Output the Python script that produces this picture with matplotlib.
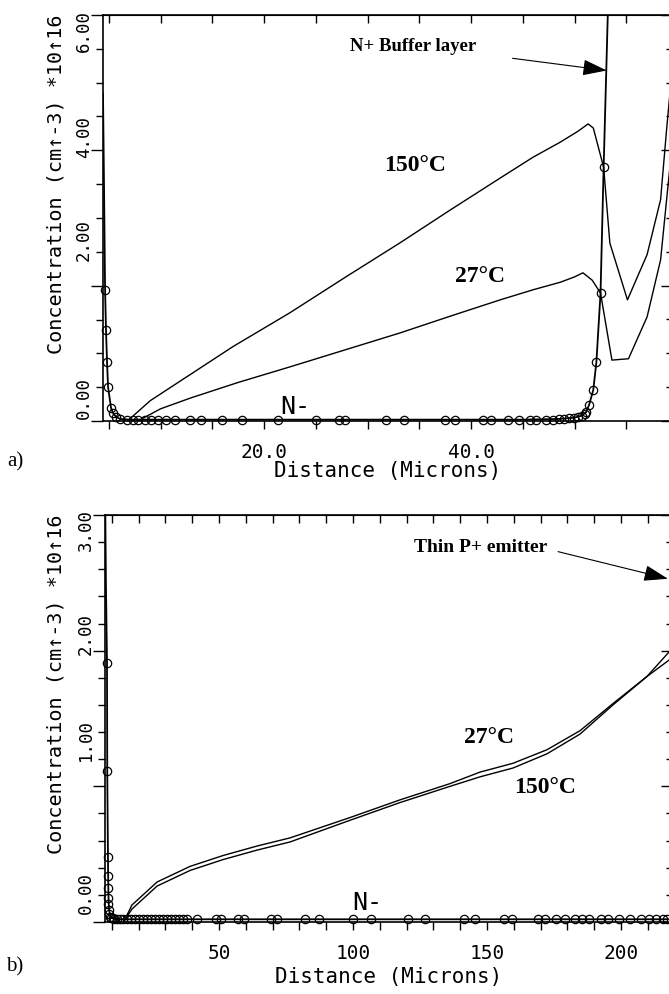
import matplotlib
matplotlib.use("Agg")
import matplotlib.pyplot as plt
from matplotlib.transforms import offset_copy

# concentration in units of 1e16 cm^-3, distance in microns

# ---- a) device with N+ buffer layer
dop_a_x = [4.44, 4.55, 4.64, 4.73, 4.83, 4.93, 5.22, 5.4, 5.7, 6.1, 7.0, 15.0, 30.0, 45.0,
           48.5, 50.0, 50.7, 51.1, 51.4, 51.8, 52.1, 52.5, 52.8, 53.2, 53.5]
dop_a_y = [4.84, 3.30, 1.94, 1.34, 0.87, 0.50, 0.19, 0.12, 0.06, 0.03, 0.02, 0.02, 0.02, 0.02,
           0.03, 0.05, 0.08, 0.13, 0.24, 0.46, 0.87, 1.89, 3.75, 6.00, 6.60]

circ_a_x = [4.64, 4.73, 4.83, 4.93, 5.22, 5.4, 5.7, 6.1, 6.8, 7.3, 7.8, 8.5, 9.1, 9.8, 10.5,
            11.4, 12.8, 13.9, 15.9, 17.9, 21.3, 25.0, 27.2, 27.8, 31.8, 33.5, 37.5, 38.4, 41.1,
            41.9, 43.6, 44.6, 45.7, 46.3, 47.2, 47.9, 48.5, 49.0, 49.5, 49.9, 50.3, 50.7, 51.0,
            51.1, 51.4, 51.8, 52.1, 52.5, 52.8]
circ_a_y = [1.94, 1.34, 0.87, 0.50, 0.19, 0.12, 0.06, 0.03, 0.02, 0.02, 0.02, 0.02, 0.02, 0.02,
            0.02, 0.02, 0.02, 0.02, 0.02, 0.02, 0.02, 0.02, 0.02, 0.02, 0.02, 0.02, 0.02, 0.02,
            0.02, 0.02, 0.02, 0.02, 0.02, 0.02, 0.02, 0.02, 0.03, 0.03, 0.04, 0.05, 0.06, 0.08,
            0.11, 0.14, 0.24, 0.46, 0.87, 1.89, 3.75]

hot_a_x = [6.8, 9.0, 12.1, 17.0, 22.5, 27.8, 33.1, 38.0, 42.8, 46.0, 48.6, 50.3, 51.3, 51.8,
           52.8, 53.4, 55.1, 57.0, 58.3, 58.9, 59.5]
hot_a_y = [0.0, 0.30, 0.61, 1.10, 1.60, 2.12, 2.63, 3.12, 3.59, 3.90, 4.12, 4.28, 4.39, 4.33,
           3.75, 2.63, 1.79, 2.46, 3.27, 4.34, 5.33]

room_a_x = [7.8, 10.0, 12.9, 17.5, 22.5, 27.8, 33.1, 38.0, 42.8, 46.0, 48.6, 50.0, 50.8, 51.7,
            52.5, 53.6, 55.2, 57.0, 58.3, 59.0, 59.5]
room_a_y = [0.0, 0.18, 0.34, 0.57, 0.80, 1.05, 1.30, 1.55, 1.79, 1.94, 2.05, 2.13, 2.19, 2.08,
            1.89, 0.90, 0.92, 1.54, 2.38, 3.45, 4.20]

xt_a = [20, 40]
xt_a_lab = ["20.0", "40.0"]
xt_a_minor = [5, 10, 15, 25, 30, 35, 45, 50, 55]
yt_a = [0, 2, 4, 6]
yt_a_lab = ["0.00", "2.00", "4.00", "6.00"]
yt_a_minor = [0.5, 1, 1.5, 2.5, 3, 3.5, 4.5, 5, 5.5]

# ---- b) device with thin P+ emitter
dop_b_x = [7.46, 7.8, 8.2, 8.3, 8.6, 8.7, 8.8, 9.0, 9.3, 10.0, 12.0, 60.0, 120.0, 180.0, 219.5]
dop_b_y = [3.30, 2.50, 1.91, 1.11, 0.40, 0.25, 0.15, 0.09, 0.05, 0.03, 0.02, 0.02, 0.02, 0.02, 0.02]

circ_b_x = [8.2, 8.3, 8.6, 8.6, 8.6, 8.6, 8.7, 8.8, 9.0, 9.3, 9.7, 10.3, 11.0, 12.0, 13.0, 14.0,
            15.5, 17.0, 18.5, 20.0, 21.5, 23.0, 24.5, 26.0, 27.5, 29.0, 30.5, 32.0, 33.5, 35.0,
            36.5, 38.0, 41.8, 48.9, 50.7, 57.1, 59.3, 69.4, 71.6, 82.1, 87.3, 100.0, 106.7,
            120.5, 126.9, 141.4, 145.5, 156.3, 159.3, 169.0, 171.6, 175.7, 179.1, 182.8, 185.4,
            188.1, 192.5, 195.1, 199.3, 203.4, 207.5, 210.5, 213.1, 215.5, 217.2]
circ_b_y = [1.91, 1.11, 0.48, 0.34, 0.25, 0.18, 0.13, 0.09, 0.06, 0.04, 0.03, 0.03, 0.02, 0.02,
            0.02, 0.02, 0.02, 0.02, 0.02, 0.02, 0.02, 0.02, 0.02, 0.02, 0.02, 0.02, 0.02, 0.02,
            0.02, 0.02, 0.02, 0.02, 0.02, 0.02, 0.02, 0.02, 0.02, 0.02, 0.02, 0.02, 0.02, 0.02,
            0.02, 0.02, 0.02, 0.02, 0.02, 0.02, 0.02, 0.02, 0.02, 0.02, 0.02, 0.02, 0.02, 0.02,
            0.02, 0.02, 0.02, 0.02, 0.02, 0.02, 0.02, 0.02, 0.02]

curve_b_x = [14.9, 17.5, 26.9, 39.2, 51.5, 64.2, 76.5, 98.9, 117.5, 136.2, 147.4, 159.7, 172.4,
             184.7, 197.0, 209.7, 217.9, 219.4]
room_b_y = [0.02, 0.125, 0.295, 0.41, 0.49, 0.56, 0.62, 0.77, 0.90, 1.02, 1.105, 1.17, 1.27,
            1.41, 1.61, 1.81, 1.93, 1.97]
hot_b_y = [0.015, 0.095, 0.265, 0.38, 0.46, 0.53, 0.59, 0.75, 0.88, 1.00, 1.07, 1.135, 1.24,
           1.385, 1.60, 1.81, 1.99, 2.03]

xt_b = [50, 100, 150, 200]
xt_b_lab = ["50", "100", "150", "200"]
xt_b_minor = [10, 20, 30, 40, 60, 70, 80, 90, 110, 120, 130, 140, 160, 170, 180, 190, 210]
yt_b = [0, 1, 2, 3]
yt_b_lab = ["0.00", "1.00", "2.00", "3.00"]
yt_b_minor = [0.2, 0.4, 0.6, 0.8, 1.2, 1.4, 1.6, 1.8, 2.2, 2.4, 2.6, 2.8]

ylab = "Concentration (cm\u2191-3) *10\u219116"
xlab = "Distance (Microns)"

mono = ["DejaVu Sans Mono", "DejaVu Sans"]
serif = ["Liberation Serif", "DejaVu Serif"]

W, H = 669, 994
fig = plt.figure(figsize=(W / 100, H / 100), dpi=100)


def px_axes(left, top, right, bottom):
    return fig.add_axes([left / W, 1 - bottom / H, (right - left) / W, (bottom - top) / H])


def setup(ax, xlim, ylim, xt, xt_lab, xt_minor, yt, yt_lab, yt_minor, yoffs, ylab_x, xlab_y):
    ax.set_xlim(xlim)
    ax.set_ylim(ylim)
    for s in ax.spines.values():
        s.set_linewidth(1.2)
    ax.set_xticks(xt, xt_lab)
    ax.set_xticks(xt_minor, minor=True)
    ax.set_yticks(yt, ["" for _ in yt])
    ax.set_yticks(yt_minor, minor=True)
    for lab in ax.get_xticklabels():
        lab.set_fontfamily(mono)
        lab.set_fontsize(14)
    ax.tick_params(axis="x", which="both", direction="out", length=6, width=1, pad=10)
    ax.tick_params(axis="y", which="major", direction="out", length=9, width=1)
    ax.tick_params(axis="y", which="minor", direction="out", length=5, width=1)

    top = ax.secondary_xaxis("top")
    top.set_xticks(sorted(xt + xt_minor))
    top.tick_params(which="both", direction="in", length=6, width=1, labeltop=False)
    right = ax.secondary_yaxis("right")
    right.set_yticks(yt)
    right.set_yticks(yt_minor, minor=True)
    right.tick_params(which="major", direction="in", length=9, width=1, labelright=False)
    right.tick_params(which="minor", direction="in", length=5, width=1)

    # the plotter put the y labels a bit off their ticks
    for v, lab, off in zip(yt, yt_lab, yoffs):
        tr = offset_copy(ax.get_yaxis_transform(), fig=fig, x=-19, y=off, units="dots")
        ax.text(0, v, lab, transform=tr, rotation=90, ha="center", va="center",
                fontfamily=mono, fontsize=12.5)

    ax.set_ylabel(ylab, loc="top", fontfamily=mono, fontsize=14.5)
    ax.yaxis.set_label_coords(ylab_x, 1.0)
    ax.set_xlabel(xlab, fontfamily=mono, fontsize=15)
    ax.xaxis.set_label_coords(0.5, xlab_y)


circ = dict(ls="none", marker="o", ms=6, mfc="none", mec="black", mew=0.9, clip_on=False)
bold = dict(fontfamily=serif, fontweight="bold", color="black")
arrow = dict(arrowstyle="-|>,head_length=0.6,head_width=0.2", lw=0.8, color="black",
             mutation_scale=25, shrinkA=0, shrinkB=0)

# ---- panel a
ax = px_axes(103, 15, 673, 421)
setup(ax, (4.44, 59.5), (0, 6), xt_a, xt_a_lab, xt_a_minor, yt_a, yt_a_lab, yt_a_minor,
      [23, 46, 13, -16], -37 / 570, -40 / 406)
ax.plot(dop_a_x, dop_a_y, color="black", lw=1.3)
ax.plot(circ_a_x, circ_a_y, **circ)
ax.plot(hot_a_x, hot_a_y, color="black", lw=1.0)
ax.plot(room_a_x, room_a_y, color="black", lw=1.0)
ax.text(34.4, 5.54, "N+ Buffer layer", ha="center", va="center", fontsize=13.5, **bold)
ax.annotate("", xy=(53.1, 5.18), xytext=(44.0, 5.36), arrowprops=arrow)
ax.text(34.6, 3.78, "150\u00b0C", ha="center", va="center", fontsize=17, **bold)
ax.text(40.9, 2.14, "27\u00b0C", ha="center", va="center", fontsize=17, **bold)
ax.text(23.0, 0.21, "N-", ha="center", va="center", fontfamily=mono, fontsize=18)

# ---- panel b
ax = px_axes(105, 515, 673, 922)
setup(ax, (7.46, 219.4), (0, 3), xt_b, xt_b_lab, xt_b_minor, yt_b, yt_b_lab, yt_b_minor,
      [29, 46, 17, -15], -39 / 568, -45 / 407)
ax.plot(dop_b_x, dop_b_y, color="black", lw=1.3)
ax.plot(circ_b_x, circ_b_y, **circ)
ax.plot(curve_b_x, room_b_y, color="black", lw=1.0)
ax.plot(curve_b_x, hot_b_y, color="black", lw=1.0)
ax.text(147.8, 2.76, "Thin P+ emitter", ha="center", va="center", fontsize=14, **bold)
ax.annotate("", xy=(217.5, 2.53), xytext=(176.5, 2.73), arrowprops=arrow)
ax.text(150.7, 1.36, "27\u00b0C", ha="center", va="center", fontsize=17, **bold)
ax.text(171.6, 0.99, "150\u00b0C", ha="center", va="center", fontsize=17, **bold)
ax.text(105.2, 0.14, "N-", ha="center", va="center", fontfamily=mono, fontsize=18)

fig.text(15 / W, 1 - 462 / H, "a)", ha="center", va="center", fontfamily=serif, fontsize=15)
fig.text(15 / W, 1 - 967 / H, "b)", ha="center", va="center", fontfamily=serif, fontsize=15)

fig.savefig("out.png", dpi=100)
